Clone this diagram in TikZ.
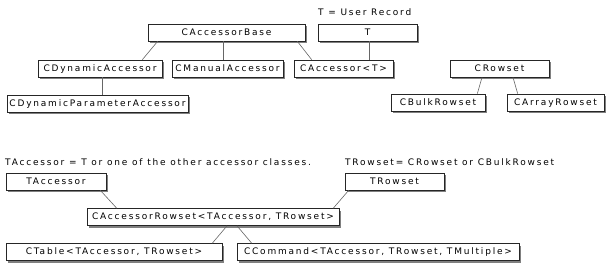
\documentclass[tikz,border=0pt]{standalone}
\usepackage{fontspec}
\setmainfont{DejaVu Sans}[LetterSpace=20]
\usetikzlibrary{shadows,calc}
\begin{document}
\begin{tikzpicture}[x=1pt,y=-1pt,
  cls/.style={draw=black!85,line width=0.7pt,fill=white,minimum height=17pt,inner sep=0pt,
    text height=6.6pt,text depth=1.5pt,font=\fontsize{9}{10}\selectfont,
    drop shadow={shadow xshift=2pt,shadow yshift=-2pt,fill=black!50,opacity=1}},
  link/.style={draw=black!60,line width=0.6pt},
  note/.style={inner sep=0pt,anchor=base west,font=\fontsize{9}{10}\selectfont}]
\useasboundingbox (0,0) rectangle (612,276);
% top part
\node[cls,minimum width=157pt] (base) at (226.5,32.5) {CAccessorBase};
\node[cls,minimum width=99pt] (T) at (367.5,32.5) {T};
\node[cls,minimum width=124pt] (dyn) at (100,68.5) {CDynamicAccessor};
\node[cls,minimum width=111pt] (man) at (227.5,68.5) {CManualAccessor};
\node[cls,minimum width=99pt] (acc) at (343.5,68.5) {CAccessor<T>};
\node[cls,minimum width=99pt] (rs) at (499.5,68.5) {CRowset};
\node[cls,minimum width=181pt] (par) at (97.5,103.5) {CDynamicParameterAccessor};
\node[cls,minimum width=94pt] (bulk) at (438,102.5) {CBulkRowset};
\node[cls,minimum width=97pt] (arr) at (555.5,102.5) {CArrayRowset};
\node[note] (tnote) at (318,15) {T = User Record};
% bottom part
\node[note] (anote) at (5,165) {TAccessor = T or one of the other accessor classes.};
\node[note] (rnote) at (345,165) {TRowset= CRowset or CBulkRowset};
\node[cls,minimum width=100pt] (tacc) at (56,181.5) {TAccessor};
\node[cls,minimum width=99pt] (trs) at (394.5,181.5) {TRowset};
\node[cls,minimum width=252pt] (car) at (213,217) {CAccessorRowset<TAccessor, TRowset>};
\node[cls,minimum width=216pt] (tab) at (114,252) {CTable<TAccessor, TRowset>};
\node[cls,minimum width=282pt] (cmd) at (378,252) {CCommand<TAccessor, TRowset, TMultiple>};
% connectors
\draw[link] ([xshift=10pt]base.south west) -- ([xshift=-20pt]dyn.north east);
\draw[link] ([xshift=-3.5pt]base.south) -- ([xshift=-4.5pt]man.north);
\draw[link] ([xshift=-8pt]base.south east) -- ([xshift=18pt]acc.north west);
\draw[link] ([xshift=1.5pt]T.south) -- ([xshift=25.5pt]acc.north);
\draw[link] ([xshift=2pt]dyn.south) -- ([xshift=4.5pt]par.north);
\draw[link] ([xshift=-17.5pt]rs.south) -- ([xshift=-8pt]bulk.north east);
\draw[link] ([xshift=13.5pt]rs.south) -- ([xshift=11pt]arr.north west);
\draw[link] ([xshift=-6pt]tacc.south east) -- ([xshift=30pt]car.north west);
\draw[link] ([xshift=4pt]trs.south west) -- ([xshift=-6pt]car.north east);
\draw[link] ([xshift=14pt]car.south) -- ([xshift=-10pt]tab.north east);
\draw[link] ([xshift=24pt]car.south) -- ([xshift=15pt]cmd.north west);
\end{tikzpicture}
\end{document}
